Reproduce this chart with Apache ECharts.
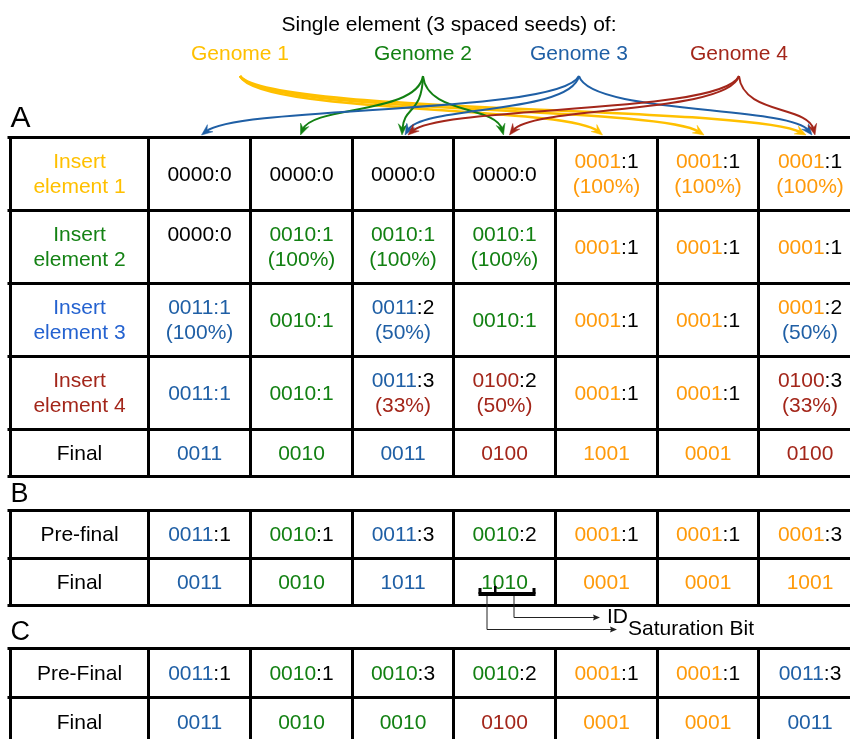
<!DOCTYPE html>
<html>
<head>
<meta charset="utf-8">
<script src="https://cdn.jsdelivr.net/npm/echarts@6/dist/echarts.min.js"></script>
<style>
html,body{margin:0;padding:0;background:#ffffff;}
#chart{width:850px;height:739px;}
</style>
</head>
<body>
<div id="chart"></div>
<script>
// ================= DATA =================
const titleText = 'Single element (3 spaced seeds) of:';
const genomes = ['Genome 1', 'Genome 2', 'Genome 3', 'Genome 4'];
// table columns (1..7) hit by each genome's three spaced seeds
const seedColumns = [[5, 6, 7], [2, 3, 4], [1, 3, 7], [3, 4, 7]];
const panelLetters = ['A', 'B', 'C'];

// ---- Panel A ----
const rowLabelsA = ['Insert\nelement 1', 'Insert\nelement 2', 'Insert\nelement 3', 'Insert\nelement 4', 'Final'];
const rowLabelGenomeA = [1, 2, 3, 4, 0];
const codesA = [
  ['0000', '0000', '0000', '0000', '0001', '0001', '0001'],
  ['0000', '0010', '0010', '0010', '0001', '0001', '0001'],
  ['0011', '0010', '0011', '0010', '0001', '0001', '0001'],
  ['0011', '0010', '0011', '0100', '0001', '0001', '0100']
];
const countsA = [
  [0, 0, 0, 0, 1, 1, 1],
  [0, 1, 1, 1, 1, 1, 1],
  [1, 1, 2, 1, 1, 1, 2],
  [1, 1, 3, 2, 1, 1, 3]
];
// second line ('' = empty second line, null = single line)
const pctA = [
  [null, null, null, null, '100%', '100%', '100%'],
  ['', '100%', '100%', '100%', null, null, null],
  ['100%', null, '50%', null, null, null, '50%'],
  [null, null, '33%', '50%', null, null, '33%']
];
// genome owning the code (0 = none)
const codeGenomeA = [
  [0, 0, 0, 0, 1, 1, 1],
  [0, 2, 2, 2, 1, 1, 1],
  [3, 2, 3, 2, 1, 1, 1],
  [3, 2, 3, 4, 1, 1, 4]
];
// genome colour of the ':count' part (0 = black)
const countGenomeA = [
  [0, 0, 0, 0, 0, 0, 0],
  [0, 2, 2, 2, 0, 0, 0],
  [3, 2, 0, 2, 0, 0, 0],
  [3, 2, 0, 0, 0, 0, 0]
];
const pctGenomeA = [
  [0, 0, 0, 0, 1, 1, 1],
  [0, 2, 2, 2, 0, 0, 0],
  [3, 0, 3, 0, 0, 0, 3],
  [0, 0, 4, 4, 0, 0, 4]
];
const finalA = ['0011', '0010', '0011', '0100', '1001', '0001', '0100'];
const finalGenomeA = [3, 2, 3, 4, 1, 1, 4];

// ---- Panel B ----
const rowLabelsB = ['Pre-final', 'Final'];
const preCodesB = ['0011', '0010', '0011', '0010', '0001', '0001', '0001'];
const preCountsB = [1, 1, 3, 2, 1, 1, 3];
const preGenomeB = [3, 2, 3, 2, 1, 1, 1];
const finalB = ['0011', '0010', '1011', '1010', '0001', '0001', '1001'];
const finalGenomeB = [3, 2, 3, 2, 1, 1, 1];
const bitLabels = ['ID', 'Saturation Bit'];

// ---- Panel C ----
const rowLabelsC = ['Pre-Final', 'Final'];
const preCodesC = ['0011', '0010', '0010', '0010', '0001', '0001', '0011'];
const preCountsC = [1, 1, 3, 2, 1, 1, 3];
const preGenomeC = [3, 2, 2, 2, 1, 1, 3];
const finalC = ['0011', '0010', '0010', '0100', '0001', '0001', '0011'];
const finalGenomeC = [3, 2, 2, 4, 1, 1, 3];

// ================= STYLE / LAYOUT =================
const FONT = '"Liberation Sans", Arial, Helvetica, sans-serif';
const FS = 21;
const LH = 25;
const CELL_COLORS = ['#000000', '#FF9A0A', '#128012', '#1F5FA5', '#A3261A'];
const LABEL_COLORS = ['#000000', '#FFC000', '#148214', '#2462D0', '#A3261A'];
const HEAD_COLORS = ['#FFC000', '#128012', '#1F5FA5', '#A3261A'];
const ARROW_COLORS = ['#FFC000', '#128012', '#1F5FA5', '#A3261A'];

const L = {
  labelLeft: 10.5,
  colEdges: [148.5, 250.5, 352.5, 453.5, 555.5, 657.5, 758.5, 861.5],
  right: 851,
  rowsA: [137.5, 210.5, 283.5, 356.5, 429.5, 476.5],
  rowsB: [510.5, 558.5, 605.5],
  rowsC: [648.5, 697.5, 746.5],
  genomeX: [240, 423, 579, 739],
  headerY: 54,
  arrowStartY: 76,
  arrowEndY: 135,
  tipShift: [-4, -1, 2, 5],
  letterY: [119, 495, 633],
  letterSize: [30, 27, 27]
};
const colCenter = k => (L.colEdges[k - 1] + L.colEdges[k]) / 2;

// ================= BUILD =================
const rich = {};
CELL_COLORS.forEach((c, i) => {
  rich['g' + i] = { fill: c, color: c, fontSize: FS, fontFamily: FONT, lineHeight: LH };
});

function cellText(code, count, pct, cg, ng, pg) {
  let s = '{g' + cg + '|' + code + '}';
  if (count !== null && count !== undefined) s += '{g' + ng + '|:' + count + '}';
  if (pct === '') s += '\n{g0| }';
  else if (pct) s += '\n{g' + pg + '|(' + pct + ')}';
  return s;
}

const cells = [];
const segs = [];
function addCell(x0, x1, y0, y1, text, plainColor) {
  cells.push({ x0, x1, y0, y1, text, plainColor });
}
function addTableLines(rows, bottomVisible) {
  rows.forEach((y, i) => {
    if (i === rows.length - 1 && !bottomVisible) return;
    segs.push([L.labelLeft - 1.5, y, L.right, y]);
  });
  const xs = [L.labelLeft].concat(L.colEdges.slice(0, 7));
  xs.forEach(x => segs.push([x, rows[0], x, rows[rows.length - 1]]));
}

// Panel A
rowLabelsA.forEach((lab, r) => {
  addCell(L.labelLeft, L.colEdges[0], L.rowsA[r], L.rowsA[r + 1], lab, LABEL_COLORS[rowLabelGenomeA[r]]);
});
for (let r = 0; r < codesA.length; r++) {
  for (let c = 0; c < 7; c++) {
    addCell(L.colEdges[c], L.colEdges[c + 1], L.rowsA[r], L.rowsA[r + 1],
      cellText(codesA[r][c], countsA[r][c], pctA[r][c], codeGenomeA[r][c], countGenomeA[r][c], pctGenomeA[r][c]));
  }
}
for (let c = 0; c < 7; c++) {
  addCell(L.colEdges[c], L.colEdges[c + 1], L.rowsA[4], L.rowsA[5], cellText(finalA[c], null, null, finalGenomeA[c]));
}
addTableLines(L.rowsA, true);

// Panel B
addCell(L.labelLeft, L.colEdges[0], L.rowsB[0], L.rowsB[1], rowLabelsB[0], '#000');
addCell(L.labelLeft, L.colEdges[0], L.rowsB[1], L.rowsB[2], rowLabelsB[1], '#000');
for (let c = 0; c < 7; c++) {
  addCell(L.colEdges[c], L.colEdges[c + 1], L.rowsB[0], L.rowsB[1], cellText(preCodesB[c], preCountsB[c], null, preGenomeB[c], 0));
  addCell(L.colEdges[c], L.colEdges[c + 1], L.rowsB[1], L.rowsB[2], cellText(finalB[c], null, null, finalGenomeB[c]));
}
addTableLines(L.rowsB, true);

// Panel C
addCell(L.labelLeft, L.colEdges[0], L.rowsC[0], L.rowsC[1], rowLabelsC[0], '#000');
addCell(L.labelLeft, L.colEdges[0], L.rowsC[1], L.rowsC[2], rowLabelsC[1], '#000');
for (let c = 0; c < 7; c++) {
  addCell(L.colEdges[c], L.colEdges[c + 1], L.rowsC[0], L.rowsC[1], cellText(preCodesC[c], preCountsC[c], null, preGenomeC[c], 0));
  addCell(L.colEdges[c], L.colEdges[c + 1], L.rowsC[1], L.rowsC[2], cellText(finalC[c], null, null, finalGenomeC[c]));
}
addTableLines(L.rowsC, false);

// arrows
const arrows = [];
seedColumns.forEach((cols, g) => cols.forEach(col => arrows.push({ g, col })));

function arrowHead(tip, dir, len, half, notch) {
  const n = Math.hypot(dir[0], dir[1]);
  const ux = dir[0] / n, uy = dir[1] / n;
  const px = -uy, py = ux;
  const bx = tip[0] - ux * len, by = tip[1] - uy * len;
  return [
    tip,
    [bx + px * half, by + py * half],
    [tip[0] - ux * notch, tip[1] - uy * notch],
    [bx - px * half, by - py * half]
  ];
}

function renderArrow(params, api) {
  const a = arrows[params.dataIndex];
  const s = api.coord([L.genomeX[a.g], L.arrowStartY]);
  const t = api.coord([colCenter(a.col) + L.tipShift[a.g], L.arrowEndY]);
  const dx = t[0] - s[0], dy = t[1] - s[1];
  const cp1 = [s[0] + 0.05 * dx, s[1] + 0.65 * dy];
  const cp2 = [t[0] - 0.1 * dx, t[1] - 0.5 * dy];
  const dir = [t[0] - cp2[0], t[1] - cp2[1]];
  const nd = Math.hypot(dir[0], dir[1]);
  const end = [t[0] - dir[0] / nd * 6, t[1] - dir[1] / nd * 6];
  const color = ARROW_COLORS[a.g];
  return {
    type: 'group',
    children: [
      {
        type: 'bezierCurve',
        shape: { x1: s[0], y1: s[1], x2: end[0], y2: end[1], cpx1: cp1[0], cpy1: cp1[1], cpx2: cp2[0], cpy2: cp2[1] },
        style: { stroke: color, lineWidth: a.g === 0 ? 2.6 : 2, fill: null }
      },
      {
        type: 'polygon',
        shape: { points: arrowHead(t, dir, 11, 4.5, 7) },
        style: { fill: color, stroke: color, lineWidth: 0.5 }
      }
    ]
  };
}

function renderHeader(params, api) {
  const g = params.dataIndex;
  const p = api.coord([L.genomeX[g], L.headerY]);
  return {
    type: 'text',
    style: { x: p[0], y: p[1], text: genomes[g], fill: HEAD_COLORS[g], font: FS + 'px ' + FONT, align: 'center', verticalAlign: 'middle' }
  };
}

function renderSeg(params, api) {
  const s = segs[params.dataIndex];
  const p0 = api.coord([s[0], s[1]]);
  const p1 = api.coord([s[2], s[3]]);
  return {
    type: 'line',
    shape: { x1: p0[0], y1: p0[1], x2: p1[0], y2: p1[1] },
    style: { stroke: '#000', lineWidth: 3, lineCap: 'square' }
  };
}

function renderCell(params, api) {
  const c = cells[params.dataIndex];
  const p0 = api.coord([c.x0, c.y0]);
  const p1 = api.coord([c.x1, c.y1]);
  const style = {
    x: (p0[0] + p1[0]) / 2, y: (p0[1] + p1[1]) / 2 + 1,
    text: c.text, align: 'center', verticalAlign: 'middle',
    font: FS + 'px ' + FONT, lineHeight: LH
  };
  if (c.plainColor) style.fill = c.plainColor; else { style.rich = rich; }
  return { type: 'text', style };
}

function renderLetter(params, api) {
  const i = params.dataIndex;
  const p = api.coord([L.labelLeft, L.letterY[i]]);
  return {
    type: 'text',
    style: { x: p[0], y: p[1], text: panelLetters[i], fill: '#000', font: L.letterSize[i] + 'px ' + FONT, align: 'left', verticalAlign: 'middle' }
  };
}

// bit annotation under the B "Final" cell of column 4
function renderBits(params, api) {
  const cx = colCenter(4) + 2;
  const yb = 594;
  const P = (x, y) => api.coord([x, y]);
  const ch = [];
  const k = '#000';
  const rect = (x0, y0, x1, y1) => {
    const a = P(x0, y0), b = P(x1, y1);
    ch.push({ type: 'rect', shape: { x: a[0], y: a[1], width: b[0] - a[0], height: b[1] - a[1] }, style: { fill: k } });
  };
  rect(cx - 28, yb - 2, cx + 29, yb + 2);
  rect(cx - 28, yb - 6, cx - 25, yb);
  rect(cx + 26, yb - 6, cx + 29, yb);
  rect(cx - 12.5, yb - 8, cx - 10, yb);
  const lines = [
    { x: cx - 20, y: 629.5, xe: 617 },
    { x: cx + 7, y: 617.5, xe: 600 }
  ];
  lines.forEach(l => {
    const a = P(l.x + 0.5, yb + 2), b = P(l.x + 0.5, l.y), c = P(l.xe - 6, l.y);
    ch.push({ type: 'polyline', shape: { points: [a, b, c] }, style: { stroke: '#222', lineWidth: 1, fill: null } });
    ch.push({ type: 'polygon', shape: { points: arrowHead(P(l.xe, l.y), [1, 0], 7, 3, 6) }, style: { fill: '#222' } });
  });
  const t1 = P(607, 617), t2 = P(628, 629);
  ch.push({ type: 'text', style: { x: t1[0], y: t1[1], text: bitLabels[0], fill: '#000', font: FS + 'px ' + FONT, align: 'left', verticalAlign: 'middle' } });
  ch.push({ type: 'text', style: { x: t2[0], y: t2[1], text: bitLabels[1], fill: '#000', font: FS + 'px ' + FONT, align: 'left', verticalAlign: 'middle' } });
  return { type: 'group', children: ch };
}

const chart = echarts.init(document.getElementById('chart'), null, { renderer: 'canvas' });
chart.setOption({
  animation: false,
  backgroundColor: '#ffffff',
  title: {
    text: titleText, left: 444, top: 10, textAlign: 'center',
    textStyle: { fontFamily: FONT, fontSize: FS, fontWeight: 'normal', color: '#000' }
  },
  grid: { left: 0, right: 0, top: 0, bottom: 0 },
  xAxis: { type: 'value', min: 0, max: 850, show: false },
  yAxis: { type: 'value', min: 0, max: 739, inverse: true, show: false },
  tooltip: { show: false },
  series: [
    { type: 'custom', name: 'arrows', renderItem: renderArrow, data: arrows.map(a => [colCenter(a.col), L.arrowEndY]), z: 2, silent: true },
    { type: 'custom', name: 'genomes', renderItem: renderHeader, data: genomes.map((g, i) => [L.genomeX[i], L.headerY]), z: 3, silent: true },
    { type: 'custom', name: 'gridlines', renderItem: renderSeg, data: segs.map(s => [s[0], s[1]]), z: 4, silent: true },
    { type: 'custom', name: 'cells', renderItem: renderCell, data: cells.map(c => [(c.x0 + c.x1) / 2, (c.y0 + c.y1) / 2]), z: 5, silent: true },
    { type: 'custom', name: 'letters', renderItem: renderLetter, data: panelLetters.map((l, i) => [L.labelLeft, L.letterY[i]]), z: 5, silent: true },
    { type: 'custom', name: 'bits', renderItem: renderBits, data: [[colCenter(4), 594]], z: 6, silent: true }
  ]
});
</script>
</body>
</html>
